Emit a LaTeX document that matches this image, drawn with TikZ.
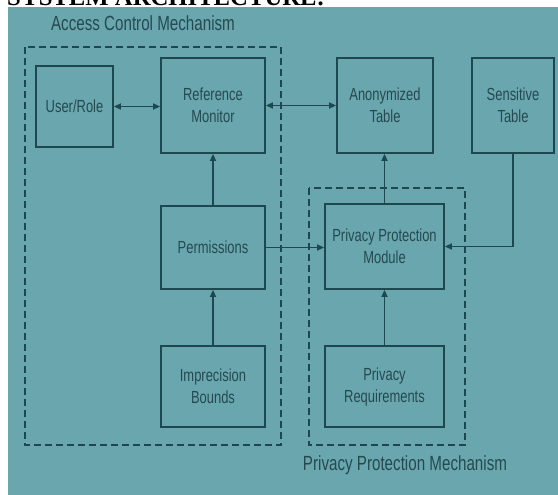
\documentclass[tikz,border=0pt]{standalone}
\usepackage{fontspec}
\setmainfont{Liberation Sans}
\newfontfamily\condf{Liberation Sans}[FakeStretch=0.74]
\newfontfamily\condg{Liberation Sans}[FakeStretch=0.74]
\newfontfamily\titlef{Liberation Serif}
\usetikzlibrary{arrows.meta}
\definecolor{bgteal}{RGB}{106,166,174}
\definecolor{linec}{RGB}{30,72,80}
\definecolor{textc}{RGB}{36,74,80}
\tikzset{
  box/.style={draw=linec, line width=1.8pt, fill=none, text=textc, align=center,
    font=\condf\fontsize{17.5}{22}\selectfont, inner sep=0pt},
  arr/.style={draw=linec, line width=1.6pt, -{Triangle[length=7pt,width=6pt]}},
  biarr/.style={draw=linec, line width=1.6pt, {Triangle[length=7pt,width=6pt]}-{Triangle[length=7pt,width=6pt]}},
  dashbox/.style={draw=linec, line width=1.6pt, dash pattern=on 7pt off 4pt},
  grouplabel/.style={text=textc, font=\condg\fontsize{20.5}{22}\selectfont, inner sep=0pt}
}
\begin{document}
\begin{tikzpicture}[x=1pt,y=-1pt]
\useasboundingbox (0,0) rectangle (558,495);
\begin{scope}
\clip (0,0) rectangle (558,495);
\fill[white] (0,0) rectangle (558,495);
\fill[bgteal] (8,7) rectangle (558,495);
\node[anchor=base west, inner sep=0pt, font=\titlef\bfseries\fontsize{24.7}{26}\selectfont] (title) at (7,6) {SYSTEM ARCHITECTURE:};
\end{scope}

% group frames
\draw[dashbox] (25,47) rectangle (281,445);
\draw[dashbox] (309,188) rectangle (465,445);
\node[grouplabel] (acm) at (143,23) {Access Control Mechanism};
\node[grouplabel] (ppm) at (405,465) {Privacy Protection Mechanism};

% boxes
\node[box, minimum width=77pt, minimum height=81pt] (user) at (74.5,106.5) {User/Role};
\node[box, minimum width=104pt, minimum height=95pt] (ref) at (213,105.5) {Reference\\Monitor};
\node[box, minimum width=96pt, minimum height=95pt] (anon) at (385,105.5) {Anonymized\\Table};
\node[box, minimum width=82pt, minimum height=95pt] (sens) at (513,105.5) {Sensitive\\Table};
\node[box, minimum width=104pt, minimum height=83pt] (perm) at (213,247.5) {Permissions};
\node[box, minimum width=104pt, minimum height=81pt] (impr) at (213,386.5) {Imprecision\\Bounds};
\node[box, minimum width=119pt, minimum height=85pt] (mod) at (384.5,246.5) {Privacy Protection\\Module};
\node[box, minimum width=119pt, minimum height=81pt] (req) at (384.5,386.5) {Privacy\\Requirements};

% connectors
\draw[biarr] (user.east) -- (user.east -| ref.west);
\draw[biarr] (ref.east) -- (anon.west);
\draw[arr] (perm.north) -- (ref.south);
\draw[arr] (impr.north) -- (perm.south);
\draw[arr] (perm.east) -- (perm.east -| mod.west);
\draw[arr] (mod.north) -- (mod.north |- anon.south);
\draw[arr] (req.north) -- (mod.south);
\draw[arr] (sens.south) |- (mod.east);
\end{tikzpicture}
\end{document}
